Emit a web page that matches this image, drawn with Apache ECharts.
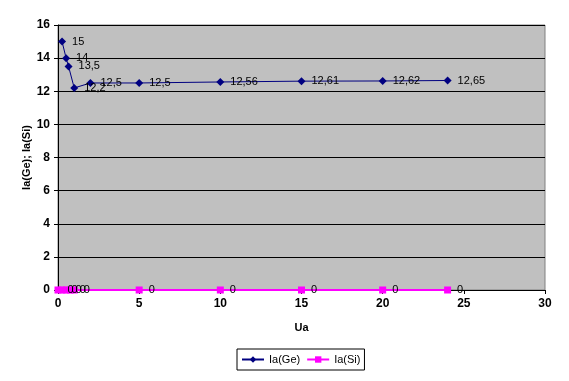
<!DOCTYPE html>
<html><head><meta charset="utf-8">
<script src="https://cdn.jsdelivr.net/npm/echarts@6/dist/echarts.min.js"></script>
<style>html,body{margin:0;padding:0;background:#fff}#c{width:569px;height:381px}</style>
</head><body><div id="c"></div>
<script>
var geX = [0.25, 0.5, 0.65, 1, 2, 5, 10, 15, 20, 24];
var geY = [15, 14, 13.5, 12.2, 12.5, 12.5, 12.56, 12.61, 12.62, 12.65];
var siX = [0, 0.25, 0.5, 0.75, 1, 5, 10, 15, 20, 24];
var siY = [0, 0, 0, 0, 0, 0, 0, 0, 0, 0];
var xTicks = [0, 5, 10, 15, 20, 25, 30];
var yTicks = [0, 2, 4, 6, 8, 10, 12, 14, 16];

function pairs(xs, ys){ return xs.map(function(x,i){return [x, ys[i]];}); }
function fmt(v){ return String(v).replace('.', ','); }

var chart = echarts.init(document.getElementById('c'));
var lbl = {show:true, position:'right', distance:6, color:'#000', fontFamily:'Arial', fontSize:11,
  formatter:function(p){return fmt(p.value[1]);}};
chart.setOption({
  animation:false,
  grid:{left:58, right:24, top:25, bottom:91, show:true, backgroundColor:'#C0C0C0', borderColor:'#808080', borderWidth:1},
  xAxis:{type:'value', min:0, max:30, interval:5, name:'Ua', nameLocation:'middle', nameGap:32,
    nameTextStyle:{fontFamily:'Arial', fontWeight:'bold', fontSize:11, color:'#000'},
    axisLine:{onZero:false, lineStyle:{color:'#000', width:1}},
    axisTick:{show:true, length:4, lineStyle:{color:'#000'}},
    axisLabel:{fontFamily:'Arial', fontWeight:'bold', fontSize:12, color:'#000', margin:8,
      formatter:function(v){return xTicks.indexOf(v)>=0?String(v):'';}},
    splitLine:{show:false}},
  yAxis:{type:'value', min:0, max:16, interval:2, name:'Ia(Ge); Ia(Si)', nameLocation:'middle', nameGap:26,
    nameMoveOverlap:false,
    nameTextStyle:{fontFamily:'Arial', fontWeight:'bold', fontSize:11, color:'#000'},
    axisLine:{show:true, lineStyle:{color:'#000', width:1}},
    axisTick:{show:true, length:4, lineStyle:{color:'#000'}},
    axisLabel:{fontFamily:'Arial', fontWeight:'bold', fontSize:12, color:'#000', margin:8,
      formatter:function(v){return yTicks.indexOf(v)>=0?String(v):'';}},
    splitLine:{show:true, lineStyle:{color:'#000', width:1}}},
  legend:{left:237, top:349, orient:'horizontal', itemGap:6, padding:[5,4,5,4], borderColor:'#000', borderWidth:1,
    itemWidth:22, itemHeight:8, textStyle:{fontFamily:'Arial', fontSize:11, color:'#000'},
    data:['Ia(Ge)','Ia(Si)']},
  series:[
    {name:'Ia(Ge)', type:'line', data:pairs(geX, geY), symbol:'diamond', symbolSize:8,
     itemStyle:{color:'#000080'}, lineStyle:{color:'#000080', width:1}, label:lbl, z:3},
    {name:'Ia(Si)', type:'line', data:pairs(siX, siY), symbol:'rect', symbolSize:7,
     itemStyle:{color:'#FF00FF'}, lineStyle:{color:'#FF00FF', width:2}, label:lbl, z:4}
  ]
});
</script></body></html>
